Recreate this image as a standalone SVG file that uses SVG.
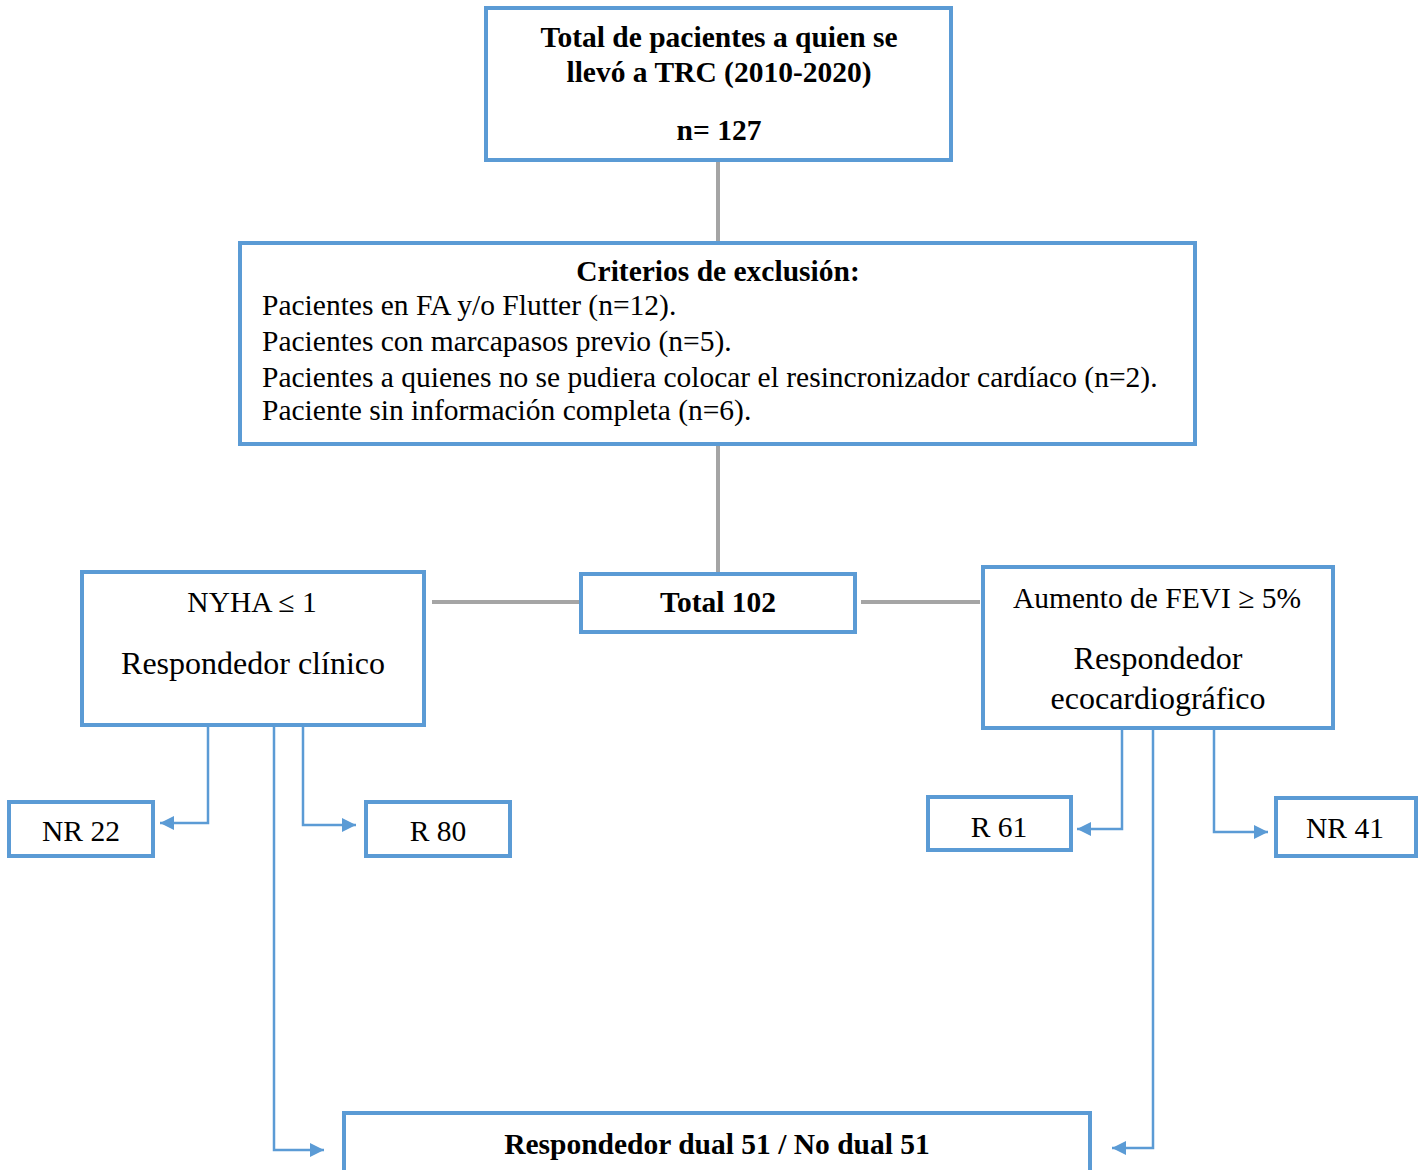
<svg xmlns="http://www.w3.org/2000/svg" width="1426" height="1170" viewBox="0 0 1426 1170">
<style>
.box{fill:#fff;stroke:#5B9BD5;stroke-width:4}
.t{font-family:"Liberation Serif","Times New Roman",serif;fill:#000;font-size:29.5px}
.big{font-size:32px}
.b{font-weight:bold}
.c{text-anchor:middle}
.gray{stroke:#A5A5A5;stroke-width:4;fill:none}
.blue{stroke:#5B9BD5;stroke-width:2.5;fill:none}
</style>
<defs>
<marker id="ah" viewBox="0 0 10 10" refX="10" refY="5" markerWidth="6" markerHeight="5.6" markerUnits="strokeWidth" orient="auto">
<path d="M0,0 L10,5 L0,10 z" fill="#5B9BD5"/>
</marker>
</defs>
<rect width="1426" height="1170" fill="#fff"/>
<g id="connectors">
<line class="gray" x1="718" y1="160" x2="718" y2="243"/>
<line class="gray" x1="718" y1="444" x2="718" y2="574"/>
<line class="gray" x1="432" y1="602" x2="581" y2="602"/>
<line class="gray" x1="861" y1="602" x2="980" y2="602"/>
<polyline class="blue" points="208,725 208,823 160,823" marker-end="url(#ah)"/>
<polyline class="blue" points="208,724 303,724"/>
<polyline class="blue" points="303,725 303,825 356,825" marker-end="url(#ah)"/>
<polyline class="blue" points="274,725 274,1150 324,1150" marker-end="url(#ah)"/>
<polyline class="blue" points="1122,728 1122,829 1077,829" marker-end="url(#ah)"/>
<polyline class="blue" points="1214,728 1214,832 1268,832" marker-end="url(#ah)"/>
<polyline class="blue" points="1153,728 1153,1148 1112,1148" marker-end="url(#ah)"/>
</g>
<g id="n-total127">
<rect class="box" x="486" y="8" width="465" height="152"/>
<text class="t b c" x="719" y="47">Total de pacientes a quien se</text>
<text class="t b c" x="719" y="82">llevó a TRC (2010-2020)</text>
<text class="t b c" x="719" y="140">n= 127</text>
</g>
<g id="n-exclusion">
<rect class="box" x="240" y="243" width="955" height="201"/>
<text class="t b c" x="718" y="281">Criterios de exclusión:</text>
<text class="t" x="262" y="315">Pacientes en FA y/o Flutter (n=12).</text>
<text class="t" x="262" y="351">Pacientes con marcapasos previo (n=5).</text>
<text class="t" x="262" y="387">Pacientes a quienes no se pudiera colocar el resincronizador cardíaco (n=2).</text>
<text class="t" x="262" y="420">Paciente sin información completa (n=6).</text>
</g>
<g id="n-total102">
<rect class="box" x="581" y="574" width="274" height="58"/>
<text class="t b c" x="718" y="612">Total 102</text>
</g>
<g id="n-clinico">
<rect class="box" x="82" y="572" width="342" height="153"/>
<text class="t c" x="252" y="612">NYHA ≤ 1</text>
<text class="t big c" x="253" y="674">Respondedor clínico</text>
</g>
<g id="n-eco">
<rect class="box" x="983" y="567" width="350" height="161"/>
<text class="t c" x="1157" y="608">Aumento de FEVI ≥ 5%</text>
<text class="t big c" x="1158" y="669">Respondedor</text>
<text class="t big c" x="1158" y="709">ecocardiográfico</text>
</g>
<g id="n-nr22">
<rect class="box" x="9" y="802" width="144" height="54"/>
<text class="t c" x="81" y="841">NR 22</text>
</g>
<g id="n-r80">
<rect class="box" x="366" y="802" width="144" height="54"/>
<text class="t c" x="438" y="841">R 80</text>
</g>
<g id="n-r61">
<rect class="box" x="928" y="797" width="143" height="53"/>
<text class="t c" x="999" y="837">R 61</text>
</g>
<g id="n-nr41">
<rect class="box" x="1276" y="798" width="140" height="58"/>
<text class="t c" x="1345" y="838">NR 41</text>
</g>
<g id="n-dual">
<rect class="box" x="344" y="1113" width="746" height="62"/>
<text class="t b c" x="717" y="1154">Respondedor dual 51 / No dual 51</text>
</g>
</svg>
